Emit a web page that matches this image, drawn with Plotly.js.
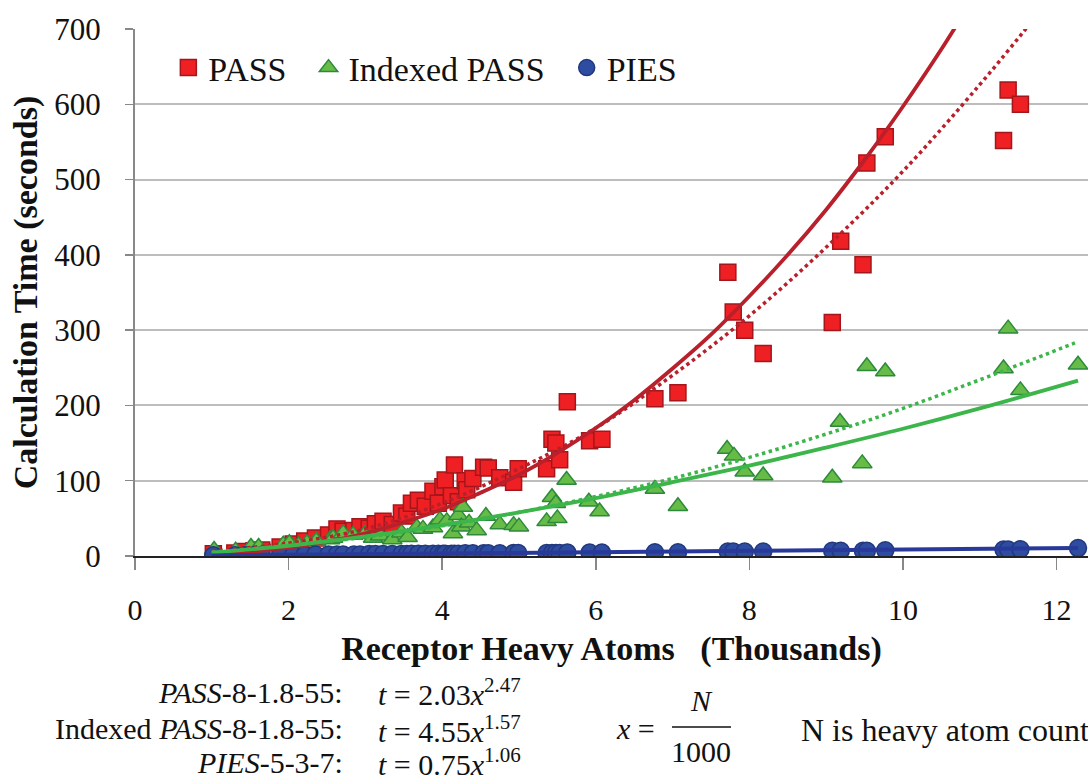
<!DOCTYPE html>
<html>
<head>
<meta charset="utf-8">
<script src="https://cdn.plot.ly/plotly-3.0.1.min.js"></script>
<style>html,body{margin:0;padding:0;background:#fff;}#chart{width:1088px;height:781px;}</style>
</head>
<body>
<div id="chart"></div>
<script>
// ---- Data ----
const passX = [1.02,1.30,1.43,1.55,1.65,1.89,2.06,2.21,2.35,2.52,2.63,2.71,2.85,2.93,3.05,3.13,3.23,3.35,3.47,3.54,3.60,3.69,3.78,3.88,3.95,4.01,4.04,4.12,4.16,4.21,4.30,4.32,4.40,4.54,4.60,4.75,4.93,4.99,5.36,5.43,5.48,5.53,5.63,5.92,6.08,6.77,7.07,7.72,7.79,7.94,8.18,9.08,9.19,9.48,9.53,9.77,11.31,11.37,11.53];
const passY = [3,4,6,7,8,12,16,20,24,28,36,33,34,39,37,43,46,42,57,53,70,74,66,86,70,92,101,80,121,72,100,88,103,118,117,104,98,116,116,155,150,128,205,153,155,209,217,377,324,300,269,310,418,387,522,557,552,619,600];

const idxX = [1.03,1.31,1.51,1.61,1.93,2.01,2.13,2.24,2.36,2.54,2.58,2.71,2.84,2.99,3.10,3.19,3.35,3.47,3.55,3.67,3.75,3.88,3.97,4.06,4.14,4.21,4.25,4.27,4.35,4.45,4.57,4.75,4.93,5.00,5.36,5.43,5.48,5.50,5.62,5.91,6.05,6.77,7.07,7.71,7.80,7.94,8.18,9.08,9.18,9.47,9.53,9.77,11.31,11.37,11.53,12.28];
const idxY = [8,7,12,12,15,17,14,17,20,22,24,30,28,29,24,27,22,31,25,38,36,38,48,46,30,54,39,65,44,34,53,42,41,39,46,78,70,50,101,72,59,89,66,142,133,112,107,104,178,123,252,245,249,302,220,254];

const piesX = [1.02,1.30,1.43,1.55,1.65,1.89,2.06,2.21,2.35,2.52,2.63,2.71,2.85,2.93,3.05,3.13,3.23,3.35,3.47,3.54,3.60,3.69,3.78,3.88,3.95,4.01,4.04,4.12,4.16,4.21,4.30,4.40,4.54,4.60,4.75,4.93,4.99,5.36,5.43,5.48,5.53,5.63,5.92,6.08,6.77,7.07,7.72,7.79,7.94,8.18,9.08,9.19,9.48,9.53,9.77,11.31,11.37,11.53,12.28];
const piesY = [1,1,1,1,1,1.5,1.5,1.5,2,2,2,2,2,2,2.5,2.5,2.5,2.5,2.5,2.5,3,3,3,3,3,3,3,3,3,3,3.5,3.5,3.5,3.5,3.5,4,4,4,4,4,4,4.5,4.5,4.5,5,5,6,6,6,6,7,7,7,7,7.5,8.5,8.5,9,10.5];

// fitted trend lines
const passFitX = [1.0,1.5,2,2.5,3,3.5,4,4.5,5,5.5,6,6.5,7,7.5,8,8.5,9,9.5,10,10.5,11];
const passFitY = [2,5.5,11,19,30,45,62,84,108,137,170,207,249,294,345,400,460,526,597,673,755];
const passDotX = [1,2,3,4,5,6,7,8,9,10,11,11.6,12];
const passDotY = [7,17,36,70,116,170,240,319,410,511,626,700,750];
const idxFitX = [1,2,3,4,5,6,7,8,9,10,11,12.28];
const idxFitY = [4.6,13.5,26,41,58,77,98,120,144,169,196,233];
const idxDotX = [1,2,3,4,5,6,7,8,9,10,11,12.24];
const idxDotY = [5,14,25,40,58,79,103,131,162,196,234,283];
const piesFitX = [1,4,8,12.28];
const piesFitY = [0.8,3.3,6.9,10.7];

const xTicks = [0,2,4,6,8,10,12];
const yTicks = [0,100,200,300,400,500,600,700];
const seriesNames = ['PASS', 'Indexed PASS', 'PIES'];

const SERIF = '"Liberation Serif", "DejaVu Serif", serif';
const PAD = '\u00A0\u00A0';

const traces = [
  {x: passX, y: passY, type:'scatter', mode:'markers', name:seriesNames[0] + PAD,
   marker:{symbol:'square', size:16, color:'#EE2024', line:{color:'#A3161B', width:1.5}}},
  {x: idxX, y: idxY, type:'scatter', mode:'markers', name:seriesNames[1] + PAD,
   marker:{symbol:'triangle-up', size:17, color:'#67BB47', line:{color:'#2D8A3C', width:1.5}}},
  {x: piesX, y: piesY, type:'scatter', mode:'markers', name:seriesNames[2],
   marker:{symbol:'circle', size:17, color:'#2E4DA0', line:{color:'#22387E', width:1.5}}},
  {x: passDotX, y: passDotY, type:'scatter', mode:'lines', showlegend:false, hoverinfo:'skip',
   line:{color:'#B8202B', width:3.5, dash:'dot', shape:'spline'}},
  {x: passFitX, y: passFitY, type:'scatter', mode:'lines', showlegend:false, hoverinfo:'skip',
   line:{color:'#B8202B', width:3.8, shape:'spline'}},
  {x: idxDotX, y: idxDotY, type:'scatter', mode:'lines', showlegend:false, hoverinfo:'skip',
   line:{color:'#3CB64A', width:3.5, dash:'dot', shape:'spline'}},
  {x: idxFitX, y: idxFitY, type:'scatter', mode:'lines', showlegend:false, hoverinfo:'skip',
   line:{color:'#3CB64A', width:3.8, shape:'spline'}},
  {x: piesFitX, y: piesFitY, type:'scatter', mode:'lines', showlegend:false, hoverinfo:'skip',
   line:{color:'#28399A', width:4, shape:'spline'}}
];

const eqFont = {family: SERIF, size: 30, color:'#111'};
const PX = v => (v-135)/953;
const PY = v => -(v-556)/527;
const annotations = [
  {xref:'paper', yref:'paper', x:PX(345), y:PY(692), xanchor:'right', yanchor:'middle', showarrow:false, font:eqFont, text:'<i>PASS</i>-8-1.8-55:'},
  {xref:'paper', yref:'paper', x:PX(345), y:PY(729), xanchor:'right', yanchor:'middle', showarrow:false, font:eqFont, text:'Indexed <i>PASS</i>-8-1.8-55:'},
  {xref:'paper', yref:'paper', x:PX(345), y:PY(762), xanchor:'right', yanchor:'middle', showarrow:false, font:eqFont, text:'<i>PIES</i>-5-3-7:'},
  {xref:'paper', yref:'paper', x:PX(376), y:PY(692), xanchor:'left', yanchor:'middle', showarrow:false, font:eqFont, text:'<i>t</i> = 2.03<i>x</i><sup>2.47</sup>'},
  {xref:'paper', yref:'paper', x:PX(376), y:PY(729), xanchor:'left', yanchor:'middle', showarrow:false, font:eqFont, text:'<i>t</i> = 4.55<i>x</i><sup>1.57</sup>'},
  {xref:'paper', yref:'paper', x:PX(376), y:PY(762), xanchor:'left', yanchor:'middle', showarrow:false, font:eqFont, text:'<i>t</i> = 0.75<i>x</i><sup>1.06</sup>'},
  {xref:'paper', yref:'paper', x:PX(657), y:PY(729), xanchor:'right', yanchor:'middle', showarrow:false, font:eqFont, text:'<i>x</i> ='},
  {xref:'paper', yref:'paper', x:PX(701), y:PY(700), xanchor:'center', yanchor:'middle', showarrow:false, font:eqFont, text:'<i>N</i>'},
  {xref:'paper', yref:'paper', x:PX(701), y:PY(751), xanchor:'center', yanchor:'middle', showarrow:false, font:eqFont, text:'1000'},
  {xref:'paper', yref:'paper', x:PX(799), y:PY(730), xanchor:'left', yanchor:'middle', showarrow:false, font:{family:SERIF, size:32, color:'#111'}, text:'N is heavy atom count'}
];

const layout = {
  width:1088, height:781,
  margin:{l:135, r:0, t:29, b:225, pad:0},
  paper_bgcolor:'#fff', plot_bgcolor:'#fff',
  font:{family:SERIF, color:'#111'},
  showlegend:true,
  legend:{orientation:'h', x:0.035, y:0.981, xanchor:'left', yanchor:'top',
          font:{family:SERIF, size:34, color:'#111'}, bgcolor:'rgba(0,0,0,0)', traceorder:'normal'},
  xaxis:{range:[0,12.41], tickvals:xTicks, ticktext:xTicks.map(String), showgrid:false, zeroline:false,
         showline:true, linecolor:'#222', linewidth:1.5, ticks:'outside', ticklen:12, tickwidth:1.5, tickcolor:'#888',
         ticklabelstandoff:14, tickfont:{family:SERIF, size:30, color:'#111'},
         title:{text:'<b>Receptor Heavy Atoms   (Thousands)</b>', font:{family:SERIF, size:34, color:'#111'}, standoff:11}},
  yaxis:{range:[0,700], tickvals:yTicks, ticktext:yTicks.map(String), showgrid:true, gridcolor:'#BDBDBD', gridwidth:2,
         zeroline:false, showline:true, linecolor:'#888', linewidth:2, ticks:'outside', ticklen:8, tickwidth:1.5, tickcolor:'#888',
         ticklabelstandoff:18, tickfont:{family:SERIF, size:31, color:'#111'},
         title:{text:'<b>Calculation Time (seconds)</b>', font:{family:SERIF, size:34, color:'#111'}, standoff:6}},
  shapes:[
    {type:'line', xref:'paper', yref:'paper', x0:PX(672), x1:PX(731), y0:PY(727), y1:PY(727), line:{color:'#111', width:1.5}}
  ],
  annotations: annotations
};

Plotly.newPlot('chart', traces, layout, {displayModeBar:false, staticPlot:true});
</script>
</body>
</html>
